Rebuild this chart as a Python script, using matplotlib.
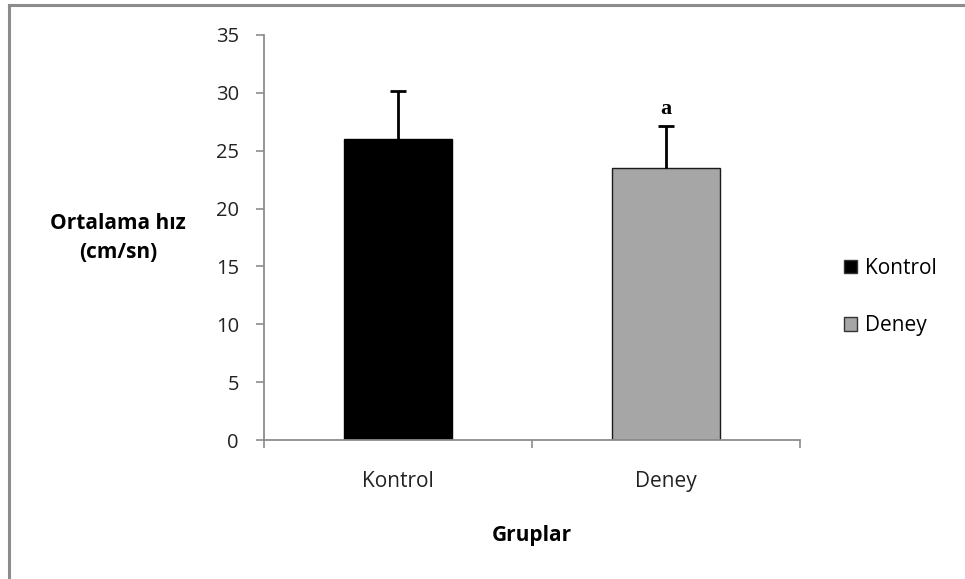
import matplotlib
matplotlib.use("Agg")
import matplotlib.pyplot as plt
from matplotlib.lines import Line2D
from matplotlib.patches import Patch

categories = ["Kontrol", "Deney"]
means = [26.0, 23.5]
errors = [4.2, 3.6]
colors = ["#000000", "#a6a6a6"]
annotations = ["", "a"]
yticks = [0, 5, 10, 15, 20, 25, 30, 35]

plt.rcParams['font.family'] = ['Open Sans', 'DejaVu Sans']
FS = 15

W, H = 965, 579
fig = plt.figure(figsize=(W / 100, H / 100), dpi=100)
fig.patch.set_facecolor("white")

# outer border (top and left only visible)
fig.add_artist(Line2D([8.5 / W, 1.0], [1 - 4.5 / H, 1 - 4.5 / H], transform=fig.transFigure,
                      color="#8c8c8c", lw=2.2))
fig.add_artist(Line2D([8.5 / W, 8.5 / W], [0, 1 - 4.5 / H], transform=fig.transFigure,
                      color="#8c8c8c", lw=2.2))

left, right, bottom, top = 264, 800, 440, 35
ax = fig.add_axes([left / W, 1 - bottom / H, (right - left) / W, (bottom - top) / H])

x = [0, 1]
for i in range(len(categories)):
    ax.bar(x[i], means[i], width=0.4, color=colors[i], edgecolor="#000000" if i == 0 else "#1a1a1a",
           linewidth=1.0, zorder=2)
    ax.errorbar(x[i], means[i], yerr=[[0], [errors[i]]], fmt="none", ecolor="black",
                elinewidth=2, capsize=0, zorder=3)
    ax.plot(x[i], means[i] + errors[i], marker="_", ms=12, mew=2, color="black", zorder=3)
    if annotations[i]:
        ax.text(x[i], means[i] + errors[i] + 0.6, annotations[i], ha="center", va="bottom",
                fontsize=16, fontweight="bold", family="Liberation Serif")

ax.set_xlim(-0.5, 1.5)
ax.set_ylim(0, 35)
ax.set_yticks(yticks)
ax.set_yticklabels([str(v) for v in yticks], fontsize=14.5, color="#222222")
ax.set_xticks(x)
ax.set_xticklabels(categories, fontsize=FS, color="#222222")
ax.tick_params(axis="x", length=0, pad=22)
ax.tick_params(axis="y", length=6, width=1.2, color="#8c8c8c", pad=12)
ax.set_xticks([-0.5, 0.5, 1.5], minor=True)
ax.tick_params(axis="x", which="minor", length=6, width=1.2, color="#8c8c8c", direction="out")

for s in ["top", "right"]:
    ax.spines[s].set_visible(False)
for s in ["left", "bottom"]:
    ax.spines[s].set_color("#8c8c8c")
    ax.spines[s].set_linewidth(1.3)

fig.text(118 / W, 1 - 238 / H, "Ortalama hız\n(cm/sn)", ha="center", va="center",
         fontsize=FS, fontweight="bold", linespacing=1.45)
fig.text(532 / W, 1 - 535 / H, "Gruplar", ha="center", va="center",
         fontsize=FS, fontweight="bold")

handles = [Patch(facecolor=colors[i], edgecolor="#333333", label=categories[i]) for i in range(2)]
leg = fig.legend(handles=handles, loc="center left", bbox_to_anchor=(825 / W, 1 - 297 / H),
                 frameon=False, fontsize=FS, handlelength=0.65, handleheight=0.65,
                 handletextpad=0.35, labelspacing=1.75)

fig.savefig("out.png", dpi=100, facecolor="white")
